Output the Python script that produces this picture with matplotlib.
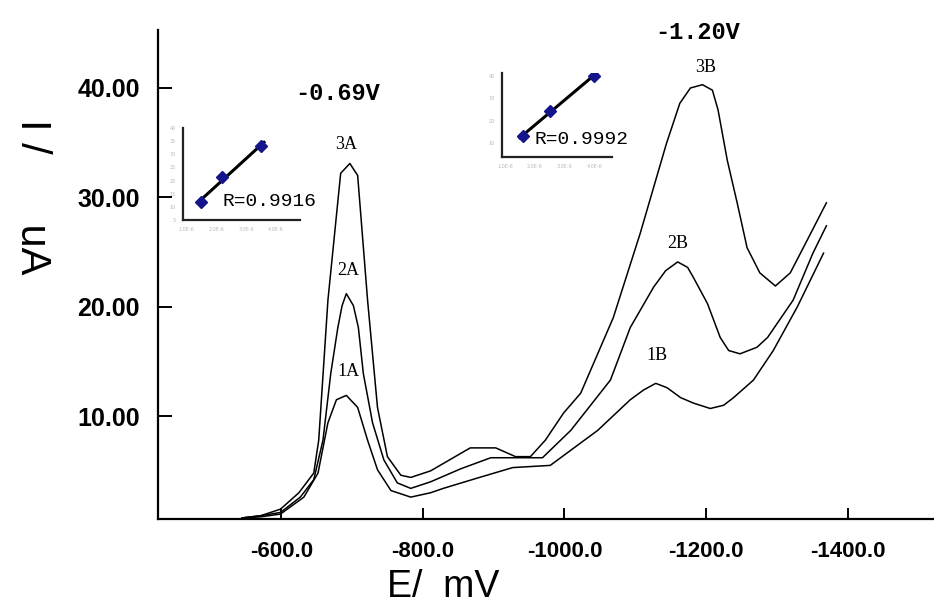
import matplotlib.pyplot as plt
import numpy as np

# 差分脉冲伏安曲线 (1, 2, 3 三个浓度)
E1 = [-545, -571, -599, -632, -652, -666, -678, -692, -708, -722, -736, -755, -783, -811, -829, -880,
      -927, -980, -1047, -1093, -1112, -1129, -1145, -1164, -1182, -1206, -1225, -1239, -1267,
      -1295, -1329, -1366]
I1 = [0.7, 0.8, 1.05, 2.6, 4.8, 9.4, 11.5, 11.9, 10.8, 7.8, 5.1, 3.2, 2.6, 3.0, 3.4, 4.4,
      5.3, 5.5, 8.7, 11.5, 12.4, 13.0, 12.6, 11.7, 11.2, 10.7, 11.0, 11.7, 13.3,
      16.0, 20.0, 24.9]

E2 = [-545, -571, -599, -627, -646, -659, -670, -680, -686, -692, -702, -709, -716, -729, -745, -764,
      -783, -811, -854, -896, -930, -969, -1009, -1065, -1093, -1126, -1143, -1160, -1174, -1182,
      -1202, -1220, -1232, -1248, -1272, -1287, -1323, -1351, -1370]
I2 = [0.7, 0.9, 1.2, 2.6, 4.2, 7.8, 13.9, 18.1, 20.1, 21.2, 20.1, 18.1, 13.9, 9.4, 6.0, 3.9,
      3.4, 4.0, 5.2, 6.2, 6.2, 6.2, 8.7, 13.3, 18.1, 21.8, 23.3, 24.1, 23.6, 22.7,
      20.3, 17.2, 16.0, 15.7, 16.3, 17.2, 20.6, 24.9, 27.4]

E3 = [-545, -571, -599, -625, -646, -653, -666, -684, -697, -708, -722, -736, -750, -769, -783, -811,
      -867, -903, -931, -952, -973, -999, -1023, -1069, -1107, -1144, -1163, -1178, -1195, -1209,
      -1217, -1230, -1244, -1258, -1276, -1298, -1319, -1343, -1370]
I3 = [0.7, 0.9, 1.5, 3.0, 4.8, 7.8, 20.6, 32.2, 33.1, 32.0, 20.6, 10.8, 6.3, 4.6, 4.4, 5.0,
      7.1, 7.1, 6.3, 6.3, 7.8, 10.3, 12.1, 19.0, 26.7, 34.9, 38.6, 40.0, 40.3, 39.8,
      38.0, 33.4, 29.5, 25.4, 23.1, 21.9, 23.1, 26.1, 29.5]

# 峰标记
peak_names = ['1A', '2A', '3A', '1B', '2B', '3B']
peak_E = [-695, -694, -692, -1131, -1160, -1199]
peak_I = [14.1, 23.3, 34.8, 15.5, 25.8, 41.9]

# 线性关系小图 (峰电流 vs 浓度)
conc_A = [1.5, 2.2, 3.5]
ip_A = [11.9, 21.2, 33.1]
conc_B = [1.6, 2.5, 4.0]
ip_B = [13.0, 24.1, 40.3]
conc_ticks = [1, 2, 3, 4]
conc_labels = ['1.0E-6', '2.0E-6', '3.0E-6', '4.0E-6']

xticks = [-600, -800, -1000, -1200, -1400]
yticks = [10, 20, 30, 40]

W, H = 934, 608
fig = plt.figure(figsize=(W / 100, H / 100), dpi=100)


def px_axes(x0, y0, x1, y1):
    return fig.add_axes([x0 / W, 1 - y1 / H, (x1 - x0) / W, (y1 - y0) / H])


ax = px_axes(158, 30, 934, 519)
for E, I in [(E1, I1), (E2, I2), (E3, I3)]:
    ax.plot(E, I, color='black', lw=1.1)

ax.set_xlim(-426, -1522)
ax.set_ylim(0.6, 45.3)
for s in ['top', 'right']:
    ax.spines[s].set_visible(False)
for s in ['left', 'bottom']:
    ax.spines[s].set_linewidth(1.6)
ax.set_xticks(xticks)
ax.set_xticklabels(['%.1f' % v for v in xticks], fontsize=16, fontweight='bold',
                   family='Liberation Sans')
ax.set_yticks(yticks)
ax.set_yticklabels(['%.2f' % v for v in yticks], fontsize=18, fontweight='bold',
                   family='Liberation Sans')
ax.tick_params(axis='x', direction='in', length=8, width=1.4, pad=16)
ax.tick_params(axis='y', direction='in', length=10, width=1.4, pad=13)

for name, e, i in zip(peak_names, peak_E, peak_I):
    ax.text(e, i, name, ha='center', va='center', fontsize=13, family='Liberation Serif')

ax.text(-680, 39.5, '-0.69V', ha='center', va='center', fontsize=17, fontweight='bold',
        family='Liberation Mono')
ax.text(-1188, 45.1, '-1.20V', ha='center', va='center', fontsize=17, fontweight='bold',
        family='Liberation Mono', clip_on=False)

fig.text(32 / W, 1 - 197 / H, 'I /      uA', rotation=270, ha='center', va='center',
         fontsize=30, family='Liberation Sans')
fig.text(443 / W, 1 - 587 / H, 'E/  mV', ha='center', va='center',
         fontsize=27, family='Liberation Sans')


def inset(box, conc, ip, ylim, yt, xlim, r_text, r_pos):
    a = px_axes(*box)
    a.patch.set_visible(False)
    fit = np.polyfit(conc, ip, 1)
    xs = np.array([conc[0] - 0.1, conc[-1] + 0.1])
    a.plot(xs, np.polyval(fit, xs), color='black', lw=2.2, zorder=2)
    a.plot(conc, ip, 'D', color='#14148c', ms=6.5, zorder=3)
    a.set_xlim(*xlim)
    a.set_ylim(*ylim)
    a.set_xticks(conc_ticks)
    a.set_xticklabels(conc_labels)
    a.set_yticks(yt)
    for s in ['top', 'right']:
        a.spines[s].set_visible(False)
    for s in ['left', 'bottom']:
        a.spines[s].set_linewidth(1.6)
        a.spines[s].set_color('#222222')
    a.tick_params(length=0, labelsize=3.5, labelcolor='#b8b8b8', pad=5)
    fig.text(r_pos[0] / W, 1 - r_pos[1] / H, r_text, ha='center', va='center',
             fontsize=14, family='Liberation Mono')


inset((183, 128, 300, 220), conc_A, ip_A, (5, 40), [5, 10, 15, 20, 25, 30, 35, 40],
      (0.9, 4.8), 'R=0.9916', (270, 202))
inset((502, 73, 612, 157), conc_B, ip_B, (3.5, 41.5), [10, 20, 30, 40],
      (0.9, 4.6), 'R=0.9992', (581, 140))

fig.savefig('out.png', dpi=100)
